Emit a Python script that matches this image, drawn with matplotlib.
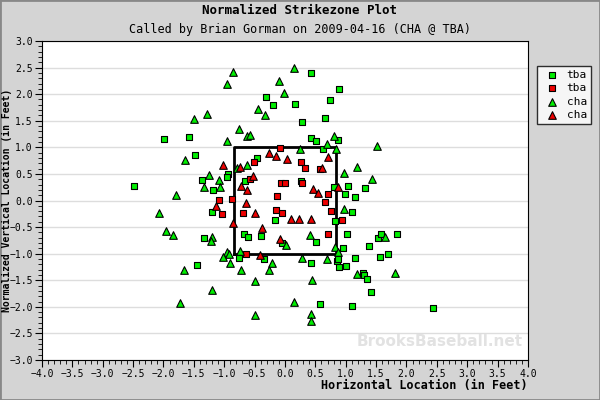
import matplotlib
matplotlib.use("Agg")
import matplotlib.pyplot as plt
import numpy as np

# tba pitches, ball (green squares)
tba_ball_x = [-0.31, -0.20, -1.99, -1.58, -1.48, -0.46, -0.94, -0.95, -1.37, -0.66, -1.19, -2.49, -1.20,
              0.43, 0.89, 0.74, 0.16, 0.28, 0.66, 0.43, 0.51, 0.87, 0.63, 0.26, 0.81, 1.04, 0.99, 1.32,
              1.15, 1.10, -1.33, -0.67, -0.61, -0.40, -0.16, -0.76, -0.35, -1.45, -0.05, 0.82, 0.51,
              1.02, 0.95, 1.38, 1.53, 1.58, 1.84, 1.70, 1.56, 1.15, 0.43, 0.86, 0.87, 0.89, 1.00, 1.28,
              1.30, 1.35, 1.42, 0.58, 1.10, 2.44]
tba_ball_y = [1.94, 1.79, 1.15, 1.19, 0.85, 0.80, 0.50, 0.44, 0.38, 0.37, 0.20, 0.27, -0.22,
              2.39, 2.09, 1.89, 1.81, 1.47, 1.55, 1.17, 1.12, 1.13, 0.97, 0.37, 0.25, 0.27, 0.12, 0.23,
              0.07, -0.22, -0.70, -0.63, -0.68, -0.67, -0.37, -1.08, -1.10, -1.21, -0.80, -0.38, -0.78,
              -0.63, -0.89, -0.85, -0.70, -0.63, -0.63, -1.00, -1.06, -1.08, -1.17, -1.14, -1.10, -1.25,
              -1.23, -1.36, -1.40, -1.47, -1.72, -1.94, -1.98, -2.02]

# tba pitches, called strike (red squares)
tba_strike_x = [-0.08, -0.51, -0.58, -0.07, 0.00, -0.13, -1.09, -0.87, -1.04, -0.69, -0.15, -0.05,
                0.26, 0.33, 0.58, 0.28, 0.71, 0.66, 0.76, 0.94, -0.64, 0.71]
tba_strike_y = [0.98, 0.72, 0.40, 0.33, 0.33, 0.08, 0.01, 0.03, -0.25, -0.23, -0.18, -0.23,
                0.72, 0.61, 0.59, 0.33, 0.12, -0.03, -0.20, -0.37, -1.00, -0.63]

# cha pitches, ball (green triangles)
cha_ball_x = [-0.86, -0.95, -0.10, -0.02, -0.44, -0.33, -1.50, -1.28, -0.76, -0.63, -0.58, -0.95, -1.65,
              -1.25, -1.09, -1.33, -1.07, -1.79, -2.07, -0.63, -0.79, 0.15, 0.81, 0.69, 0.25, 0.84, 1.51,
              1.19, 0.97, 1.43, 0.97, -1.96, -1.84, -1.20, -1.22, -0.95, -0.92, -1.02, -0.74, -0.91,
              -0.72, -1.66, -0.49, -1.20, -1.73, -0.49, -0.21, -0.26, 0.02, 0.41, 0.82, 0.87, 0.28,
              0.69, 0.44, 1.19, 1.65, 1.81, 0.15, 0.43, 0.43]
cha_ball_y = [2.41, 2.19, 2.24, 2.03, 1.72, 1.60, 1.53, 1.62, 1.34, 1.21, 1.23, 1.12, 0.76,
              0.48, 0.38, 0.25, 0.25, 0.10, -0.23, 0.67, 0.61, 2.50, 1.21, 1.06, 0.97, 0.97, 1.02,
              0.63, 0.52, 0.40, -0.16, -0.57, -0.65, -0.68, -0.76, -0.97, -1.00, -1.06, -0.95, -1.17,
              -1.30, -1.30, -1.51, -1.68, -1.92, -2.15, -1.17, -1.30, -0.83, -0.65, -0.87, -0.97, -1.08,
              -1.10, -1.49, -1.38, -0.68, -1.36, -1.90, -2.13, -2.26]

# cha pitches, called strike (red triangles)
cha_strike_x = [-0.26, -0.15, 0.03, -1.02, -0.74, -0.53, -0.72, -0.63, -0.64, -1.14, -0.49, 0.71,
                0.46, 0.54, 0.87, 0.10, 0.23, 0.43, -0.86, -0.38, -0.08, -0.41, 0.61]
cha_strike_y = [0.89, 0.83, 0.78, 0.67, 0.63, 0.46, 0.27, 0.20, -0.05, -0.10, -0.23, 0.82,
                0.22, 0.14, 0.25, -0.35, -0.35, -0.35, -0.42, -0.52, -0.72, -1.02, 0.61]

zone_x = [-0.84, 0.84]
zone_y = [-1.0, 1.0]

mono = "DejaVu Sans Mono"
fig = plt.figure(figsize=(6, 4), dpi=100, facecolor="#d4d4d4")
fig.patches.append(plt.Rectangle((0, 0), 1, 1, transform=fig.transFigure, fill=False,
                                 edgecolor="#888888", lw=2))
ax = fig.add_axes([0.07, 0.1, 0.81, 0.7975])
ax.set_facecolor("white")

ax.scatter(tba_ball_x, tba_ball_y, marker="s", s=22, c="#00ee00", edgecolors="black", linewidths=0.8, label="tba", zorder=3)
ax.scatter(tba_strike_x, tba_strike_y, marker="s", s=22, c="#ee0000", edgecolors="black", linewidths=0.8, label="tba", zorder=3)
ax.scatter(cha_ball_x, cha_ball_y, marker="^", s=30, c="#00ee00", edgecolors="black", linewidths=0.8, label="cha", zorder=3)
ax.scatter(cha_strike_x, cha_strike_y, marker="^", s=30, c="#ee0000", edgecolors="black", linewidths=0.8, label="cha", zorder=3)

ax.plot([zone_x[0], zone_x[1], zone_x[1], zone_x[0], zone_x[0]],
        [zone_y[0], zone_y[0], zone_y[1], zone_y[1], zone_y[0]], color="black", lw=2, zorder=2)

ax.set_xlim(-4, 4)
ax.set_ylim(-3, 3)
ax.set_xticks(np.arange(-4, 4.01, 0.5))
ax.set_yticks(np.arange(-3, 3.01, 0.5))
ax.set_xticks(np.arange(-4, 4.01, 0.1), minor=True)
ax.set_yticks(np.arange(-3, 3.01, 0.1), minor=True)
ax.yaxis.grid(True, color="#dddddd", lw=1)
ax.set_axisbelow(True)
ax.tick_params(which="both", direction="out", labelsize=7, pad=1.5)
ax.tick_params(which="major", length=5)
ax.tick_params(which="minor", length=3)
for lab in ax.get_xticklabels() + ax.get_yticklabels():
    lab.set_family(mono)

ax.set_xlabel("Horizontal Location (in Feet)", fontsize=8.5, fontweight="bold", family=mono, loc="right", labelpad=0)
fig.text(0.011, 0.499, "Normalized Vertical Location (in Feet)", rotation=90, ha="center", va="center",
         fontsize=7, fontweight="bold", family=mono)
fig.text(0.5, 0.965, "Normalized Strikezone Plot", ha="center", fontsize=9, fontweight="bold", family=mono)
fig.text(0.5, 0.918, "Called by Brian Gorman on 2009-04-16 (CHA @ TBA)", ha="center", fontsize=8.5, family=mono)
ax.text(0.99, 0.035, "BrooksBaseball.net", transform=ax.transAxes, ha="right", va="bottom",
        fontsize=11, fontweight="bold", color="#e2e2e2", zorder=1)

leg = fig.legend(loc="upper left", bbox_to_anchor=(0.885, 0.85), frameon=True, fancybox=False,
                 edgecolor="black", prop={"family": mono, "size": 8}, handletextpad=0.3,
                 borderpad=0.4, labelspacing=0.3)

fig.savefig("out.png", dpi=100, facecolor=fig.get_facecolor())
